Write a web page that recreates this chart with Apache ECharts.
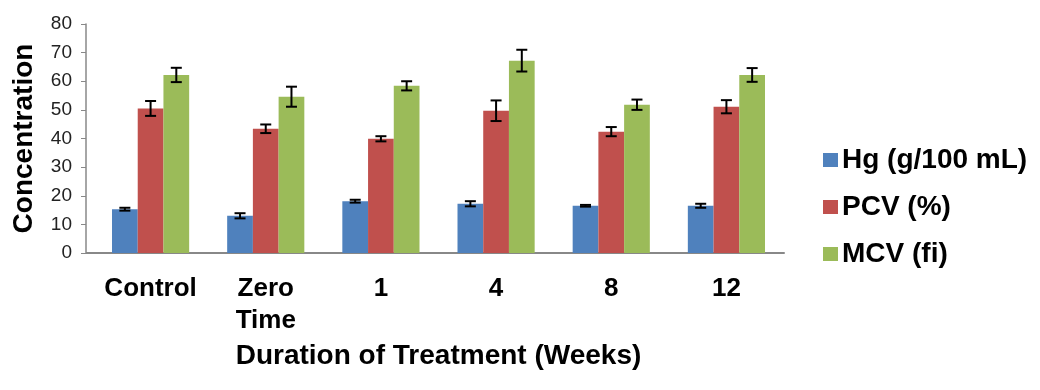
<!DOCTYPE html>
<html>
<head>
<meta charset="utf-8">
<script src="https://cdn.jsdelivr.net/npm/echarts@6/dist/echarts.min.js"></script>
<style>
html,body{margin:0;padding:0;background:#fff;}
#chart{width:1040px;height:390px;}
</style>
</head>
<body>
<div id="chart"></div>
<script>
var categories = ['Control', 'Zero\nTime', '1', '4', '8', '12'];
var seriesNames = ['Hg (g/100 mL)', 'PCV (%)', 'MCV (fi)'];
var hgValues  = [15.3, 13.0, 18.1, 17.2, 16.5, 16.5];
var hgErrors  = [0.5, 0.9, 0.5, 0.9, 0.3, 0.7];
var pcvValues = [50.5, 43.4, 39.9, 49.7, 42.4, 51.1];
var pcvErrors = [2.6, 1.5, 0.9, 3.6, 1.6, 2.3];
var mcvValues = [62.2, 54.6, 58.4, 67.2, 51.8, 62.2];
var mcvErrors = [2.5, 3.5, 1.6, 3.8, 1.8, 2.4];
var yTicks = {min: 0, max: 80, interval: 10};
var colors = ['#4F81BD', '#C0504D', '#9BBB59'];

var allValues = [hgValues, pcvValues, mcvValues];
var allErrors = [hgErrors, pcvErrors, mcvErrors];
var CAT_GAP = 0.33;

function errSeries(k) {
  var data = allValues[k].map(function (v, i) { return [i, v, allErrors[k][i]]; });
  return {
    type: 'custom',
    name: seriesNames[k] + ' err',
    z: 10,
    silent: true,
    data: data,
    encode: {x: 0, y: 1},
    renderItem: function (params, api) {
      var ci = api.value(0), v = api.value(1), e = api.value(2);
      var band = api.size([1, 0])[0];
      var bw = band * (1 - CAT_GAP) / 3;
      var c = api.coord([ci, v]);
      var x = c[0] + (k - 1) * bw;
      var top = api.coord([ci, v + e])[1];
      var bot = api.coord([ci, v - e])[1];
      var hw = 5.5;
      var st = {stroke: '#000', lineWidth: 2};
      return {type: 'group', children: [
        {type: 'line', shape: {x1: x, y1: top, x2: x, y2: bot}, style: st},
        {type: 'line', shape: {x1: x - hw, y1: top, x2: x + hw, y2: top}, style: st},
        {type: 'line', shape: {x1: x - hw, y1: bot, x2: x + hw, y2: bot}, style: st}
      ]};
    }
  };
}

var series = [];
for (var k = 0; k < 3; k++) {
  series.push({
    type: 'bar',
    name: seriesNames[k],
    data: allValues[k],
    itemStyle: {color: colors[k]},
    barGap: '0%',
    barCategoryGap: (CAT_GAP * 100) + '%'
  });
}
for (var k2 = 0; k2 < 3; k2++) series.push(errSeries(k2));

var chart = echarts.init(document.getElementById('chart'), null, {renderer: 'canvas'});
chart.setOption({
  animation: false,
  backgroundColor: '#fff',
  textStyle: {fontFamily: 'Liberation Sans, Arial, sans-serif'},
  grid: {left: 93, right: 256, top: 24, bottom: 137, containLabel: false},
  graphic: [{
    type: 'line', silent: true, z: 5,
    shape: {x1: 86, y1: 253, x2: 94, y2: 253},
    style: {stroke: '#888888', lineWidth: 2}
  }],
  legend: {
    orient: 'vertical',
    left: 818,
    top: 141,
    itemWidth: 15,
    itemHeight: 14,
    itemGap: 19,
    icon: 'rect',
    data: seriesNames,
    textStyle: {fontSize: 28, fontWeight: 'bold', color: '#000', lineHeight: 28, padding: [0, 0, 0, -1]}
  },
  xAxis: {
    type: 'category',
    data: categories,
    axisLine: {lineStyle: {color: '#888888', width: 2}},
    axisTick: {show: false},
    axisLabel: {fontSize: 26, fontWeight: 'bold', color: '#000', margin: 20, lineHeight: 32, interval: 0},
    name: 'Duration of Treatment (Weeks)',
    nameLocation: 'middle',
    nameGap: 85,
    nameTextStyle: {fontSize: 28, fontWeight: 'bold', color: '#000'}
  },
  yAxis: {
    type: 'value',
    min: yTicks.min,
    max: yTicks.max,
    interval: yTicks.interval,
    offset: 7,
    splitLine: {show: false},
    axisLine: {show: true, lineStyle: {color: '#888888', width: 1.5}},
    axisTick: {show: true, length: 5, lineStyle: {color: '#888888'}},
    axisLabel: {fontSize: 19, color: '#222', margin: 14},
    name: 'Concentration',
    nameLocation: 'middle',
    nameGap: 48,
    nameTextStyle: {fontSize: 28, fontWeight: 'bold', color: '#000'}
  },
  series: series
});
</script>
</body>
</html>
